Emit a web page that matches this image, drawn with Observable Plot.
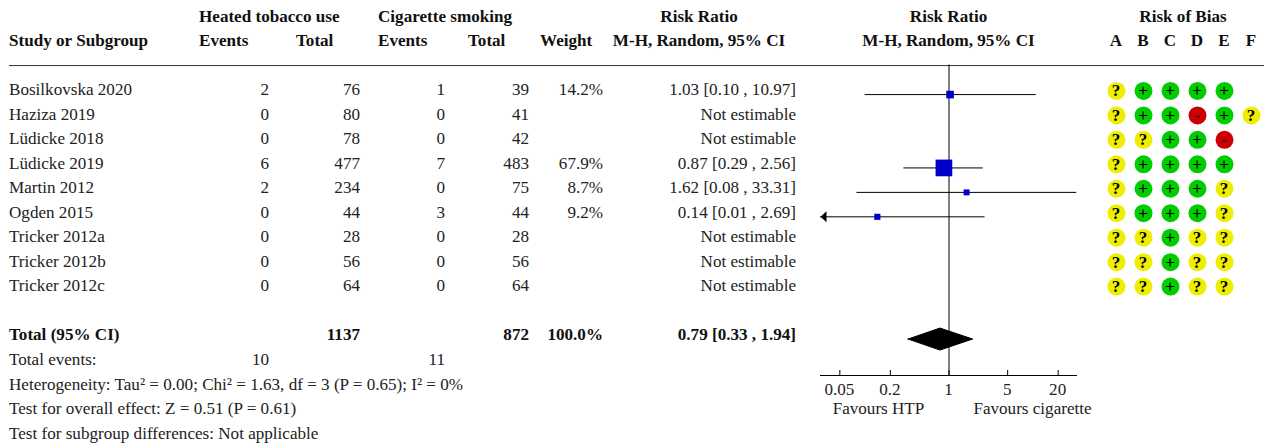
<!DOCTYPE html>
<html><head><meta charset="utf-8">
<script src="https://cdn.jsdelivr.net/npm/d3@7"></script>
<script src="https://cdn.jsdelivr.net/npm/@observablehq/plot@0.6"></script>
<style>
html,body{margin:0;padding:0;background:#fff}
#c{position:relative;width:1264px;height:444px;overflow:hidden}
#c svg{position:absolute;left:0;top:0;background:transparent}
</style></head><body><div id="c"></div>
<script>
const studies=["Bosilkovska 2020","Haziza 2019","Lüdicke 2018","Lüdicke 2019","Martin 2012","Ogden 2015","Tricker 2012a","Tricker 2012b","Tricker 2012c"];
const htpEvents=[2,0,0,6,2,0,0,0,0];
const htpTotal=[76,80,78,477,234,44,28,56,64];
const cigEvents=[1,0,0,7,0,3,0,0,0];
const cigTotal=[39,41,42,483,75,44,28,56,64];
const weights=[14.2,null,null,67.9,8.7,9.2,null,null,null];
const rr=[1.03,null,null,0.87,1.62,0.14,null,null,null];
const ciLow=[0.10,null,null,0.29,0.08,0.01,null,null,null];
const ciHigh=[10.97,null,null,2.56,33.31,2.69,null,null,null];
const total={label:"Total (95% CI)",htp:1137,cig:872,weight:"100.0%",rr:0.79,lo:0.33,hi:1.94};
const totalEvents={label:"Total events:",htp:10,cig:11};
const notes=["Heterogeneity: Tau² = 0.00; Chi² = 1.63, df = 3 (P = 0.65); I² = 0%","Test for overall effect: Z = 0.51 (P = 0.61)","Test for subgroup differences: Not applicable"];
const axisTicks=[0.05,0.2,1,5,20];
const favours=["Favours HTP","Favours cigarette"];
const robDomains=["A","B","C","D","E","F"];
const robRatings=["?++++ ","?++-+?","??++- ","?++++ ","?+++? ","?+++? ","??+?? ","??+?? ","??+?? "];

// layout
const FONT="'Liberation Serif',serif", FS=17.1, INK="#222";
const W=1264,H=444;
const fmt=(v)=>v.toFixed(2);
const ciLabel=(r,l,h)=>`${fmt(r)} [${fmt(l)} , ${fmt(h)}]`;
const rows=d3.range(studies.length);
const mount=(p)=>document.getElementById("c").appendChild(p);
const base={width:W,height:H,margin:0,style:{fontFamily:FONT,fontSize:FS+"px",background:"transparent"}};
const nudge={dx:-0.5,dy:-0.4};

// table
const tx=(xp,yRow,text,o={})=>Plot.text([{xp,yRow,text}],{x:"xp",y:"yRow",text:"text",fontSize:FS,fill:INK,lineAnchor:"middle",textAnchor:"start",...nudge,...o});
const col=(xp,vals,o={})=>Plot.text(rows.filter(i=>vals[i]!=null),{x:()=>xp,y:i=>i,text:i=>String(vals[i]),fontSize:FS,fill:INK,lineAnchor:"middle",textAnchor:"end",...nudge,...o});
const bold={fontWeight:"bold",fill:"#111"};
const headers=[
 [199,-3,"Heated tobacco use"],[378,-3,"Cigarette smoking"],
 [9,-2,"Study or Subgroup"],[199,-2,"Events"],[296,-2,"Total"],[378,-2,"Events"],[468,-2,"Total"],[540,-2,"Weight"]];
const centered=[[699,-3,"Risk Ratio"],[699,-2,"M-H, Random, 95% CI"],[948.5,-3,"Risk Ratio"],[948.5,-2,"M-H, Random, 95% CI"],[1183,-3,"Risk of Bias"]];
mount(Plot.plot({...base,x:{axis:null,domain:[0,W],range:[0,W]},y:{axis:null,domain:[-3,14],range:[16,433]},marks:[
 ...headers.map(([x,y,t])=>tx(x,y,t,bold)),
 ...centered.map(([x,y,t])=>tx(x,y,t,{...bold,textAnchor:"middle"})),
 Plot.ruleY([-1],{x1:9,x2:W,stroke:"#333",strokeWidth:1}),
 col(131,studies,{x:()=>9,textAnchor:"start"}),
 col(269,htpEvents),col(360,htpTotal),col(445,cigEvents),col(529,cigTotal),
 col(603,weights.map(w=>w==null?null:w.toFixed(1)+"%")),
 col(796,rr.map((r,i)=>r==null?"Not estimable":ciLabel(r,ciLow[i],ciHigh[i]))),
 tx(9,10,total.label,bold),
 tx(360,10,String(total.htp),{...bold,textAnchor:"end"}),
 tx(529,10,String(total.cig),{...bold,textAnchor:"end"}),
 tx(603,10,total.weight,{...bold,textAnchor:"end"}),
 tx(796,10,ciLabel(total.rr,total.lo,total.hi),{...bold,textAnchor:"end"}),
 tx(9,11,totalEvents.label),
 tx(269,11,String(totalEvents.htp),{textAnchor:"end"}),
 tx(445,11,String(totalEvents.cig),{textAnchor:"end"}),
 ...notes.map((n,i)=>tx(9,12+i,n))
]}));

// forest
const est=rows.filter(i=>rr[i]!=null);
const xDom=[1/34,34];
const arrowLeft={draw(ctx){ctx.moveTo(0,0);ctx.lineTo(6,-5.5);ctx.lineTo(6,5.5);ctx.closePath();}};
const diamondY=10.02, diamondH=0.45;
mount(Plot.plot({...base,marginLeft:820,marginRight:W-1077,marginTop:64.5,marginBottom:H-375,
 x:{type:"log",domain:xDom,clamp:true},
 y:{axis:null,domain:[-1.21,11.49],range:[64.5,375]},
 r:{type:"sqrt",domain:[0,67.9],range:[0,9.42]},
 marks:[
  Plot.ruleX([1],{stroke:"#000",strokeWidth:1}),
  Plot.ruleY(est,{y:i=>i,x1:i=>ciLow[i],x2:i=>ciHigh[i],stroke:"#000",strokeWidth:1}),
  Plot.dot(est.filter(i=>ciLow[i]<xDom[0]),{x:i=>ciLow[i],y:i=>i,symbol:()=>arrowLeft,r:4,fill:"#000",stroke:"none"}),
  Plot.dot(est,{x:i=>rr[i],y:i=>i,r:i=>weights[i],symbol:"square",fill:"#0000cc",stroke:"none"}),
  Plot.areaY([total.lo,total.rr,total.hi],{x:d=>d,y1:(d,i)=>diamondY-(i==1?diamondH:0),y2:(d,i)=>diamondY+(i==1?diamondH:0),fill:"#000",stroke:"#000",strokeWidth:1,strokeLinejoin:"miter"}),
  Plot.axisX({ticks:axisTicks,tickFormat:()=>"",anchor:"bottom",tickSize:-5,stroke:"#000",strokeWidth:1}),
  Plot.ruleY([11.49],{stroke:"#000",strokeWidth:1}),
  Plot.text(axisTicks,{x:d=>d,y:()=>12.05,text:d=>String(d),fontSize:FS,fill:INK,lineAnchor:"middle",dx:-0.5})
 ]}));
mount(Plot.plot({...base,x:{axis:null,domain:[0,W],range:[0,W]},y:{axis:null,domain:[0,H],range:[0,H]},marks:[
  tx(878.5,407.7,favours[0],{textAnchor:"middle",dy:0}),
  tx(1032.5,407.7,favours[1],{textAnchor:"middle",dy:0})
]}));

// risk of bias
const robCells=rows.flatMap(i=>robDomains.map((d,j)=>({i,d,v:robRatings[i][j]})).filter(c=>c.v!==" "));
const robColor={"?":"#eeee00","+":"#00cc00","-":"#cc0000"};
const robText=(rating,o)=>Plot.text(robCells.filter(c=>c.v===rating),{x:"d",y:"i",text:"v",fontSize:FS,fill:"#000",lineAnchor:"middle",dx:-0.5,...o});
mount(Plot.plot({...base,
 x:{axis:null,type:"point",domain:robDomains,range:[1115,1251.2],padding:0},
 y:{axis:null,domain:[-2,8],range:[41.5,286.1]},
 marks:[
  Plot.text(robDomains,{x:d=>d,y:()=>-2,text:d=>d,fontSize:FS,fontWeight:"bold",fill:"#111",lineAnchor:"middle",dx:-0.5,dy:-1.5}),
  Plot.dot(robCells,{x:"d",y:"i",r:9,fill:d=>robColor[d.v],stroke:"none"}),
  robText("?",{fontWeight:"bold"}),
  robText("+",{fontWeight:"normal",stroke:"#000",strokeWidth:0.3}),
  robText("-",{fontWeight:"bold",fill:"#222"})
 ]}));
</script></body></html>
